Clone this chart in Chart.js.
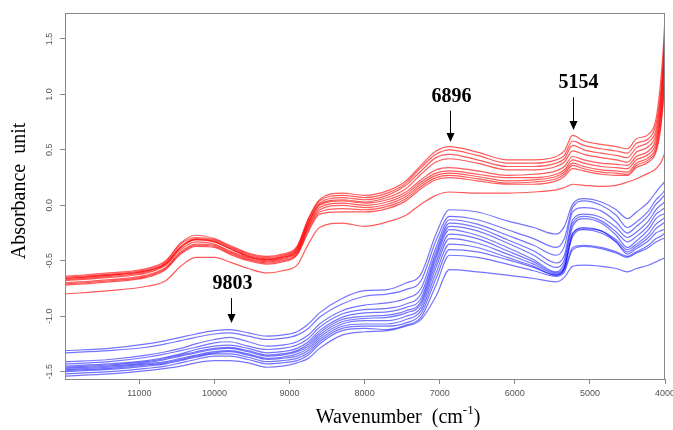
<!DOCTYPE html>
<html>
<head>
<meta charset="utf-8">
<script src="https://cdn.jsdelivr.net/npm/chart.js@4.4.1/dist/chart.umd.min.js"></script>
<style>
  html, body { margin: 0; padding: 0; background: #fff; }
  #wrap { width: 673px; height: 430px; position: relative; }
</style>
</head>
<body>
<div id="wrap"><canvas id="nirChart"></canvas></div>
<script>
const wavenumbers = [11990, 11400, 10900, 10650, 10450, 10250, 10000, 9800, 9550, 9300,
    9100, 8900, 8750, 8600, 8300, 8000, 7700, 7450, 7250, 7050,
    6870, 6500, 6100, 5750, 5450, 5340, 5230, 5080, 4850, 4650,
    4500, 4380, 4220, 4120, 4060, 4020, 4000];

// Red spectra (upper group)
const red1 = [-0.64,-0.61,-0.57,-0.50,-0.34,-0.27,-0.30,-0.36,-0.43,-0.46,-0.44,-0.37,-0.12,0.05,0.11,0.09,0.13,0.22,0.36,0.49,0.53,0.48,0.41,0.41,0.44,0.49,0.63,0.58,0.55,0.53,0.51,0.60,0.64,0.78,1.10,1.45,1.70];
const red2 = [-0.65,-0.62,-0.58,-0.51,-0.35,-0.29,-0.31,-0.37,-0.44,-0.47,-0.45,-0.38,-0.13,0.04,0.09,0.07,0.11,0.20,0.34,0.46,0.50,0.45,0.38,0.38,0.41,0.45,0.58,0.54,0.51,0.49,0.47,0.56,0.60,0.73,1.00,1.35,1.62];
const red3 = [-0.66,-0.63,-0.59,-0.52,-0.37,-0.30,-0.32,-0.38,-0.45,-0.48,-0.46,-0.39,-0.15,0.02,0.07,0.05,0.09,0.18,0.31,0.43,0.46,0.41,0.35,0.35,0.38,0.42,0.54,0.50,0.47,0.45,0.43,0.52,0.57,0.68,0.95,1.25,1.50];
const red4 = [-0.67,-0.64,-0.60,-0.53,-0.38,-0.31,-0.33,-0.39,-0.46,-0.49,-0.47,-0.40,-0.16,0.01,0.05,0.03,0.07,0.15,0.28,0.39,0.42,0.38,0.32,0.32,0.35,0.39,0.49,0.46,0.43,0.41,0.39,0.48,0.53,0.64,0.90,1.30,1.55];
const red5 = [-0.66,-0.63,-0.59,-0.53,-0.38,-0.31,-0.33,-0.39,-0.46,-0.49,-0.47,-0.41,-0.17,0.00,0.04,0.02,0.05,0.12,0.23,0.32,0.34,0.31,0.27,0.28,0.31,0.35,0.44,0.41,0.38,0.37,0.36,0.44,0.49,0.60,0.85,1.20,1.48];
const red6 = [-0.68,-0.65,-0.61,-0.54,-0.40,-0.33,-0.35,-0.41,-0.47,-0.50,-0.48,-0.42,-0.19,-0.02,0.02,0.00,0.03,0.10,0.21,0.29,0.31,0.28,0.25,0.25,0.28,0.32,0.41,0.38,0.35,0.34,0.33,0.41,0.46,0.56,0.80,1.15,1.40];
const red7 = [-0.70,-0.67,-0.63,-0.56,-0.42,-0.35,-0.36,-0.42,-0.48,-0.51,-0.49,-0.43,-0.20,-0.04,0.00,-0.02,0.01,0.08,0.19,0.27,0.29,0.26,0.22,0.23,0.26,0.30,0.38,0.35,0.32,0.31,0.30,0.38,0.43,0.53,0.78,1.05,1.30];
const red8 = [-0.71,-0.68,-0.64,-0.57,-0.43,-0.36,-0.37,-0.43,-0.49,-0.52,-0.50,-0.44,-0.22,-0.06,-0.03,-0.04,-0.01,0.06,0.17,0.25,0.27,0.24,0.20,0.21,0.24,0.28,0.36,0.33,0.30,0.29,0.28,0.36,0.41,0.50,0.72,1.00,1.25];
const red9 = [-0.72,-0.69,-0.65,-0.58,-0.44,-0.37,-0.38,-0.44,-0.50,-0.53,-0.51,-0.45,-0.24,-0.08,-0.06,-0.06,-0.03,0.04,0.15,0.23,0.25,0.22,0.19,0.19,0.22,0.26,0.33,0.31,0.28,0.27,0.27,0.34,0.39,0.48,0.68,0.95,1.20];
const red10 = [-0.80,-0.77,-0.73,-0.68,-0.55,-0.47,-0.47,-0.51,-0.57,-0.61,-0.59,-0.54,-0.35,-0.20,-0.16,-0.19,-0.15,-0.09,0.01,0.09,0.12,0.11,0.11,0.12,0.14,0.16,0.19,0.18,0.17,0.18,0.21,0.24,0.29,0.33,0.38,0.44,0.48];

// Blue spectra (lower group)
const blue1 = [-1.31,-1.29,-1.25,-1.22,-1.19,-1.16,-1.13,-1.12,-1.15,-1.18,-1.17,-1.14,-1.07,-0.97,-0.84,-0.77,-0.76,-0.70,-0.62,-0.26,-0.04,-0.06,-0.14,-0.20,-0.26,-0.19,0.01,0.06,0.03,-0.04,-0.12,-0.06,0.03,0.12,0.17,0.20,0.22];
const blue2 = [-1.33,-1.31,-1.28,-1.25,-1.22,-1.19,-1.16,-1.15,-1.18,-1.21,-1.20,-1.17,-1.11,-1.01,-0.89,-0.82,-0.80,-0.76,-0.68,-0.32,-0.10,-0.13,-0.22,-0.30,-0.38,-0.30,-0.02,0.04,0.00,-0.09,-0.20,-0.15,-0.05,0.05,0.09,0.12,0.14];
const blue3 = [-1.41,-1.39,-1.35,-1.32,-1.29,-1.25,-1.21,-1.19,-1.23,-1.27,-1.26,-1.23,-1.17,-1.07,-0.95,-0.90,-0.88,-0.84,-0.75,-0.38,-0.13,-0.17,-0.27,-0.36,-0.45,-0.37,-0.06,-0.02,-0.05,-0.15,-0.25,-0.19,-0.09,0.01,0.05,0.08,0.10];
const blue4 = [-1.43,-1.41,-1.37,-1.34,-1.31,-1.28,-1.24,-1.23,-1.27,-1.30,-1.29,-1.26,-1.20,-1.10,-0.98,-0.94,-0.93,-0.89,-0.80,-0.42,-0.16,-0.20,-0.31,-0.41,-0.52,-0.45,-0.13,-0.08,-0.11,-0.20,-0.29,-0.24,-0.14,-0.04,0.00,0.02,0.04];
const blue5 = [-1.45,-1.43,-1.40,-1.37,-1.34,-1.30,-1.27,-1.26,-1.29,-1.33,-1.32,-1.29,-1.23,-1.13,-1.01,-0.97,-0.96,-0.92,-0.84,-0.45,-0.19,-0.23,-0.34,-0.45,-0.56,-0.49,-0.16,-0.10,-0.14,-0.24,-0.33,-0.28,-0.18,-0.08,-0.05,-0.03,-0.02];
const blue6 = [-1.46,-1.44,-1.41,-1.38,-1.35,-1.32,-1.29,-1.28,-1.31,-1.35,-1.34,-1.31,-1.25,-1.15,-1.03,-1.00,-0.99,-0.95,-0.87,-0.48,-0.22,-0.27,-0.38,-0.49,-0.60,-0.52,-0.19,-0.12,-0.16,-0.27,-0.38,-0.32,-0.22,-0.12,-0.09,-0.08,-0.07];
const blue7 = [-1.47,-1.45,-1.42,-1.39,-1.36,-1.33,-1.30,-1.29,-1.32,-1.36,-1.35,-1.32,-1.27,-1.17,-1.05,-1.02,-1.01,-0.97,-0.89,-0.52,-0.26,-0.30,-0.41,-0.51,-0.61,-0.55,-0.26,-0.20,-0.23,-0.31,-0.40,-0.35,-0.26,-0.17,-0.14,-0.12,-0.11];
const blue8 = [-1.48,-1.46,-1.43,-1.41,-1.38,-1.35,-1.32,-1.31,-1.34,-1.38,-1.37,-1.34,-1.29,-1.19,-1.07,-1.04,-1.04,-1.00,-0.92,-0.56,-0.30,-0.34,-0.44,-0.53,-0.62,-0.56,-0.28,-0.22,-0.25,-0.33,-0.42,-0.37,-0.29,-0.21,-0.18,-0.16,-0.15];
const blue9 = [-1.49,-1.47,-1.44,-1.42,-1.39,-1.36,-1.33,-1.32,-1.35,-1.39,-1.38,-1.36,-1.31,-1.21,-1.09,-1.07,-1.07,-1.03,-0.95,-0.61,-0.35,-0.38,-0.47,-0.55,-0.63,-0.57,-0.25,-0.21,-0.23,-0.33,-0.44,-0.39,-0.32,-0.25,-0.23,-0.22,-0.21];
const blue10 = [-1.50,-1.48,-1.45,-1.43,-1.40,-1.37,-1.34,-1.34,-1.37,-1.41,-1.40,-1.38,-1.33,-1.23,-1.11,-1.09,-1.09,-1.06,-0.98,-0.66,-0.40,-0.42,-0.49,-0.56,-0.63,-0.58,-0.38,-0.36,-0.38,-0.42,-0.46,-0.42,-0.36,-0.30,-0.28,-0.26,-0.25];
const blue11 = [-1.52,-1.50,-1.47,-1.45,-1.42,-1.39,-1.36,-1.36,-1.39,-1.43,-1.42,-1.40,-1.35,-1.25,-1.13,-1.11,-1.12,-1.08,-1.01,-0.72,-0.45,-0.47,-0.53,-0.59,-0.64,-0.60,-0.40,-0.37,-0.39,-0.43,-0.47,-0.43,-0.38,-0.33,-0.31,-0.30,-0.29];
const blue12 = [-1.54,-1.52,-1.49,-1.47,-1.45,-1.42,-1.40,-1.40,-1.42,-1.46,-1.45,-1.42,-1.38,-1.29,-1.17,-1.14,-1.13,-1.09,-1.03,-0.82,-0.58,-0.60,-0.63,-0.66,-0.69,-0.65,-0.55,-0.54,-0.55,-0.57,-0.60,-0.57,-0.54,-0.51,-0.49,-0.48,-0.47];

const redSeries = [red1, red2, red3, red4, red5, red6, red7, red8, red9, red10];
const blueSeries = [blue1, blue2, blue3, blue4, blue5, blue6, blue7, blue8, blue9, blue10, blue11, blue12];

// Peak annotations: label, arrow position (cm-1), arrow tip and label centre (absorbance)
const peakLabels = ['9803', '6896', '5154'];
const peakArrowWn = [9777, 6867, 5227];
const peakArrowTip = [-1.06, 0.57, 0.68];
const peakLabelY = [-0.71, 0.98, 1.10];

const xTicks = [11000, 10000, 9000, 8000, 7000, 6000, 5000, 4000];
const yTicks = [-1.5, -1.0, -0.5, 0.0, 0.5, 1.0, 1.5];

function toPoints(values) {
    return wavenumbers.map((w, i) => ({ x: w, y: values[i] }));
}

function makeDataset(values, color) {
    return {
        data: toPoints(values),
        borderColor: color,
        borderWidth: 1.2,
        pointRadius: 0,
        fill: false,
        cubicInterpolationMode: 'monotone'
    };
}

const datasets = [];
redSeries.forEach(s => datasets.push(makeDataset(s, 'rgba(255, 0, 0, 0.65)')));
blueSeries.forEach(s => datasets.push(makeDataset(s, 'rgba(0, 0, 255, 0.55)')));

// Frame, axis titles and arrows
const decorations = {
    id: 'decorations',
    afterDraw(chart) {
        const { ctx, chartArea, scales } = chart;
        ctx.save();
        ctx.strokeStyle = '#888';
        ctx.lineWidth = 1;
        ctx.strokeRect(chartArea.left + 0.5, chartArea.top + 0.5,
            chartArea.right - chartArea.left - 1, chartArea.bottom - chartArea.top);

        // y title
        ctx.fillStyle = '#000';
        ctx.font = '20px "Liberation Serif", "Times New Roman", serif';
        ctx.textAlign = 'center';
        ctx.textBaseline = 'middle';
        ctx.save();
        ctx.translate(20, 191);
        ctx.rotate(-Math.PI / 2);
        ctx.fillText('Absorbance  unit', 0, 0);
        ctx.restore();

        // x title with superscript
        const main = 'Wavenumber  (cm';
        const sup = '-1';
        const close = ')';
        ctx.textAlign = 'left';
        ctx.textBaseline = 'alphabetic';
        const wMain = ctx.measureText(main).width;
        const wClose = ctx.measureText(close).width;
        ctx.font = '13px "Liberation Serif", "Times New Roman", serif';
        const wSup = ctx.measureText(sup).width;
        const x0 = 398 - (wMain + wSup + wClose) / 2;
        ctx.font = '20px "Liberation Serif", "Times New Roman", serif';
        ctx.fillText(main, x0, 423);
        ctx.font = '13px "Liberation Serif", "Times New Roman", serif';
        ctx.fillText(sup, x0 + wMain, 414);
        ctx.font = '20px "Liberation Serif", "Times New Roman", serif';
        ctx.fillText(close, x0 + wMain + wSup, 423);

        // peak arrows
        ctx.font = 'bold 20px "Liberation Serif", "Times New Roman", serif';
        ctx.textAlign = 'center';
        ctx.textBaseline = 'middle';
        ctx.strokeStyle = '#000';
        peakLabels.forEach((label, i) => {
            const px = Math.round(scales.x.getPixelForValue(peakArrowWn[i])) + 0.5;
            const tip = scales.y.getPixelForValue(peakArrowTip[i]);
            const ly = scales.y.getPixelForValue(peakLabelY[i]);
            ctx.fillText(label, px + (i === 2 ? 5 : 1), ly);
            ctx.beginPath();
            ctx.moveTo(px, ly + 14);
            ctx.lineTo(px, tip - 6);
            ctx.stroke();
            ctx.beginPath();
            ctx.moveTo(px - 4, tip - 9);
            ctx.lineTo(px + 4, tip - 9);
            ctx.lineTo(px, tip);
            ctx.closePath();
            ctx.fill();
        });
        ctx.restore();
    }
};

const tickFont = { family: '"Liberation Sans", Arial, sans-serif', size: 9 };

new Chart(document.getElementById('nirChart'), {
    type: 'line',
    data: { datasets: datasets },
    options: {
        responsive: true,
        maintainAspectRatio: false,
        animation: false,
        layout: { padding: { top: 13, right: 8, left: 0, bottom: 0 } },
        plugins: {
            legend: { display: false },
            tooltip: { enabled: false }
        },
        scales: {
            x: {
                type: 'linear',
                reverse: true,
                min: 4000,
                max: 11990,
                afterBuildTicks: scale => { scale.ticks = xTicks.map(v => ({ value: v })); },
                afterFit: scale => {
                    scale.height = 51;
                    scale.paddingLeft = 0;
                    scale.paddingRight = 0;
                },
                ticks: {
                    font: tickFont,
                    color: '#555',
                    padding: 4,
                    maxRotation: 0,
                    autoSkip: false,
                    callback: v => String(v)
                },
                grid: { drawOnChartArea: false, tickLength: 5, color: '#888' },
                border: { color: '#888' }
            },
            y: {
                min: -1.566,
                max: 1.734,
                afterBuildTicks: scale => { scale.ticks = yTicks.map(v => ({ value: v })); },
                afterFit: scale => { scale.width = 65; },
                ticks: {
                    font: tickFont,
                    color: '#555',
                    padding: 3,
                    minRotation: 90,
                    maxRotation: 90,
                    crossAlign: 'center',
                    callback: v => v.toFixed(1)
                },
                grid: { drawOnChartArea: false, tickLength: 5, color: '#888' },
                border: { color: '#888' }
            }
        }
    },
    plugins: [decorations]
});
</script>
</body>
</html>
